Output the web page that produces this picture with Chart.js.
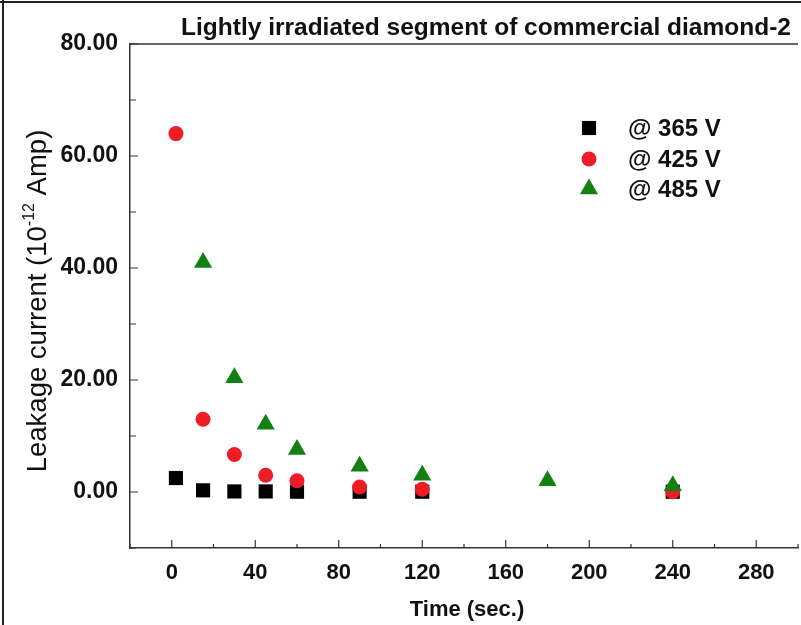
<!DOCTYPE html>
<html>
<head>
<meta charset="utf-8">
<script src="https://cdn.jsdelivr.net/npm/chart.js@4/dist/chart.umd.min.js"></script>
<style>
  html, body { margin: 0; padding: 0; background: #fff; overflow: hidden; }
  #wrap { width: 810px; height: 625px; }
</style>
</head>
<body>
<div id="wrap"><canvas id="grafico" width="810" height="625"></canvas></div>
<script>
// dados
var tempos365 = [2, 15, 30, 45, 60, 90, 120, 240];
var valores365 = [2.5, 0.3, 0.1, 0.1, 0.05, 0.05, 0.05, 0.05];
var tempos425 = [2, 15, 30, 45, 60, 90, 120, 240];
var valores425 = [64.0, 13.0, 6.7, 3.0, 2.0, 0.9, 0.5, 0.05];
var tempos485 = [15, 30, 45, 60, 90, 120, 180, 240];
var valores485 = [41.0, 20.4, 12.1, 7.6, 4.6, 3.0, 2.0, 1.1];
var rotulosLegenda = ["@ 365 V", "@ 425 V", "@ 485 V"];
var titulo = "Lightly irradiated segment of commercial diamond-2";
var tituloX = "Time (sec.)";

function pontos(xs, ys) {
    return xs.map(function (x, i) { return { x: x, y: ys[i] }; });
}

var series = [
    { label: rotulosLegenda[0], data: pontos(tempos365, valores365), cor: "#000000", estilo: "rect", raio: 10, ordem: 2 },
    { label: rotulosLegenda[1], data: pontos(tempos425, valores425), cor: "#ee1c24", estilo: "circle", raio: 7.5, ordem: 1 },
    { label: rotulosLegenda[2], data: pontos(tempos485, valores485), cor: "#138013", estilo: "triangle", raio: 10.5, ordem: 0 }
];

var fonteEixo = "'Liberation Sans', Arial, sans-serif";

// desenha titulo, legenda, ticks internos e moldura
var extras = {
    id: 'extras',
    afterDraw: function (chart) {
        var ctx = chart.ctx;
        var area = chart.chartArea;
        var sx = chart.scales.x, sy = chart.scales.y;
        ctx.save();

        // moldura da imagem
        ctx.strokeStyle = "#222";
        ctx.lineWidth = 2;
        ctx.beginPath();
        ctx.moveTo(0, 2); ctx.lineTo(810, 2);
        ctx.moveTo(3, 0); ctx.lineTo(3, 625);
        ctx.stroke();

        // linha de cima da area
        ctx.strokeStyle = "#333";
        ctx.lineWidth = 1.5;
        ctx.beginPath();
        ctx.moveTo(area.left, area.top); ctx.lineTo(area.right, area.top);
        ctx.stroke();

        // ticks para dentro
        ctx.lineWidth = 1.2;
        ctx.beginPath();
        sy.ticks.forEach(function (t) {
            var py = sy.getPixelForValue(t.value);
            var len = (t.value % 20 === 0) ? 8 : 6;
            ctx.moveTo(area.left, py); ctx.lineTo(area.left + len, py);
        });
        sx.ticks.forEach(function (t) {
            var px = sx.getPixelForValue(t.value);
            var len = (t.value % 40 === 0) ? 8 : 4;
            ctx.moveTo(px, area.bottom); ctx.lineTo(px, area.bottom - len);
        });
        ctx.stroke();

        // titulo
        ctx.fillStyle = "#111";
        ctx.textAlign = "center";
        ctx.textBaseline = "middle";
        ctx.font = "bold 24.5px " + fonteEixo;
        ctx.fillText(titulo, 486, 28);

        // titulo do eixo x
        ctx.font = "bold 22px " + fonteEixo;
        ctx.fillText(tituloX, 467, 610);

        // titulo do eixo y com expoente
        ctx.save();
        ctx.translate(36, 301);
        ctx.rotate(-Math.PI / 2);
        ctx.textAlign = "left";
        ctx.textBaseline = "alphabetic";
        var p1 = "Leakage current (10", p2 = "-12", p3 = " Amp)";
        ctx.font = "27.5px " + fonteEixo;
        var w1 = ctx.measureText(p1).width, w3 = ctx.measureText(p3).width;
        ctx.font = "16px " + fonteEixo;
        var w2 = ctx.measureText(p2).width;
        var x0 = -(w1 + w2 + w3) / 2;
        ctx.font = "27.5px " + fonteEixo;
        ctx.fillText(p1, x0, 10);
        ctx.font = "16px " + fonteEixo;
        ctx.fillText(p2, x0 + w1, -2);
        ctx.font = "27.5px " + fonteEixo;
        ctx.fillText(p3, x0 + w1 + w2, 10);
        ctx.restore();

        // legenda
        var ys = [128, 159, 189];
        ctx.textAlign = "left";
        ctx.font = "bold 24px " + fonteEixo;
        series.forEach(function (s, i) {
            ctx.fillStyle = s.cor;
            Chart.helpers.drawPoint(ctx, { pointStyle: s.estilo, radius: s.raio, rotation: 0, borderWidth: 0 }, 589, ys[i]);
            ctx.fillStyle = "#111";
            ctx.fillText(s.label, 628, ys[i] + 1);
        });

        ctx.restore();
    }
};

new Chart(document.getElementById('grafico'), {
    type: 'scatter',
    data: {
        datasets: series.map(function (s) {
            return {
                label: s.label,
                data: s.data,
                pointStyle: s.estilo,
                pointRadius: s.raio,
                pointHoverRadius: s.raio,
                backgroundColor: s.cor,
                borderColor: s.cor,
                borderWidth: 0,
                order: s.ordem
            };
        })
    },
    options: {
        responsive: false,
        animation: false,
        layout: { padding: { top: 44, right: 8, left: 0, bottom: 0 } },
        plugins: {
            legend: { display: false },
            title: { display: false },
            tooltip: { enabled: false }
        },
        scales: {
            x: {
                type: 'linear',
                min: -20,
                max: 300,
                afterFit: function (scale) { scale.height = 77; },
                grid: { drawOnChartArea: false, drawTicks: false },
                border: { display: true, color: "#333", width: 1.5 },
                ticks: {
                    stepSize: 20,
                    padding: 12,
                    color: "#111",
                    font: { family: fonteEixo, size: 22, weight: 'bold' },
                    maxRotation: 0,
                    autoSkip: false,
                    callback: function (v) { return (v % 40 === 0 && v >= 0) ? String(v) : ''; }
                }
            },
            y: {
                min: -10,
                max: 80,
                afterFit: function (scale) { scale.width = 130; },
                grid: { drawOnChartArea: false, drawTicks: false },
                border: { display: true, color: "#333", width: 1.5 },
                ticks: {
                    stepSize: 10,
                    padding: 12,
                    color: "#111",
                    font: { family: fonteEixo, size: 23, weight: 'bold' },
                    autoSkip: false,
                    callback: function (v) { return (v % 20 === 0) ? v.toFixed(2) : ''; }
                }
            }
        }
    },
    plugins: [extras]
});
</script>
</body>
</html>
